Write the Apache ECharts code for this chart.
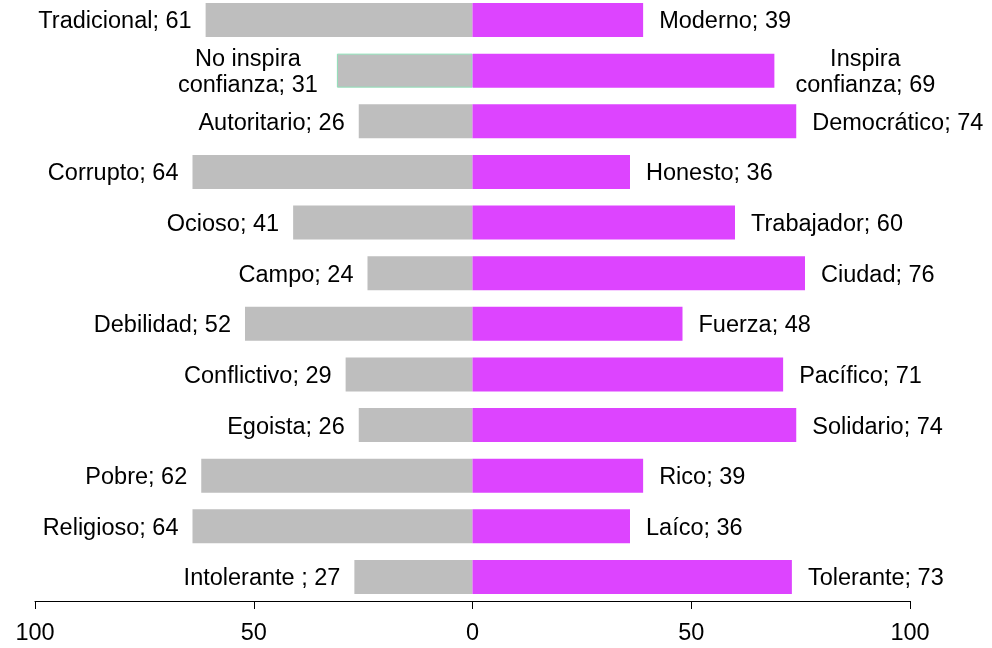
<!DOCTYPE html>
<html>
<head>
<meta charset="utf-8">
<script src="https://cdn.jsdelivr.net/npm/echarts@6/dist/echarts.min.js"></script>
<style>
  html, body { margin: 0; padding: 0; background: #fff; }
  #chart { width: 992px; height: 648px; }
</style>
</head>
<body>
<div id="chart"></div>
<script>
var leftNames = ['Tradicional', 'No inspira\nconfianza', 'Autoritario', 'Corrupto', 'Ocioso', 'Campo',
    'Debilidad', 'Conflictivo', 'Egoista', 'Pobre', 'Religioso', 'Intolerante '];
var leftValues = [61, 31, 26, 64, 41, 24, 52, 29, 26, 62, 64, 27];
var rightNames = ['Moderno', 'Inspira\nconfianza', 'Democrático', 'Honesto', 'Trabajador', 'Ciudad',
    'Fuerza', 'Pacífico', 'Solidario', 'Rico', 'Laíco', 'Tolerante'];
var rightValues = [39, 69, 74, 36, 60, 76, 48, 71, 74, 39, 36, 73];
var xTicks = [-100, -50, 0, 50, 100];

var FONT = '"Liberation Sans", Arial, sans-serif';
var FS = 23.5;

// width of the longest line, so two-line labels can be centred line by line
var ctx = document.createElement('canvas').getContext('2d');
ctx.font = FS + 'px ' + FONT;
function textW(s) { return Math.ceil(ctx.measureText(s).width); }

function makeLabel(name, v) {
    var text = name + '; ' + v;
    if (text.indexOf('\n') < 0) return text;
    return text.split('\n').map(function (l) { return '{c|' + l + '}'; }).join('\n');
}

function buildData(names, values, sign) {
    return values.map(function (v, i) {
        var item = { value: sign * v, name: names[i] };
        if (names[i].indexOf('\n') >= 0) {
            var lines = (names[i] + '; ' + v).split('\n');
            var w = Math.max.apply(null, lines.map(textW));
            item.label = {
                distance: sign < 0 ? 19 : 21,
                rich: { c: { width: w, align: 'center', fontFamily: FONT, fontSize: FS, lineHeight: 26, color: '#000' } }
            };
            if (sign < 0) item.itemStyle = { borderColor: '#8fe0b8', borderWidth: 1 };
        }
        return item;
    });
}

var labelStyle = {
    show: true,
    color: '#000',
    fontFamily: FONT,
    fontSize: FS,
    lineHeight: 26,
    offset: [0, 2]
};

var dom = document.getElementById('chart');
var myChart = echarts.init(dom);
var option = {
    animation: false,
    grid: { left: 35, right: 82, top: 20, bottom: 71 },
    xAxis: {
        type: 'value',
        min: xTicks[0],
        max: xTicks[xTicks.length - 1],
        interval: 50,
        offset: 24,
        splitLine: { show: false },
        axisLine: { show: true, lineStyle: { color: '#000', width: 1 } },
        axisTick: { show: true, length: 8, lineStyle: { color: '#000' } },
        axisLabel: {
            color: '#000',
            fontFamily: FONT,
            fontSize: FS,
            margin: 21,
            formatter: function (v) { return Math.abs(v); }
        }
    },
    yAxis: {
        type: 'category',
        inverse: true,
        boundaryGap: false,
        data: leftNames.map(function (n, i) { return i; }),
        show: false
    },
    series: [
        {
            type: 'bar',
            stack: 'all',
            barWidth: 34,
            data: buildData(leftNames, leftValues, -1),
            itemStyle: { color: '#bebebe' },
            label: Object.assign({}, labelStyle, {
                position: 'left',
                distance: 14,
                formatter: function (p) { return makeLabel(leftNames[p.dataIndex], leftValues[p.dataIndex]); }
            })
        },
        {
            type: 'bar',
            stack: 'all',
            barWidth: 34,
            data: buildData(rightNames, rightValues, 1),
            itemStyle: { color: '#dd44ff' },
            label: Object.assign({}, labelStyle, {
                position: 'right',
                distance: 16,
                formatter: function (p) { return makeLabel(rightNames[p.dataIndex], rightValues[p.dataIndex]); }
            })
        }
    ]
};
myChart.setOption(option);
</script>
</body>
</html>
